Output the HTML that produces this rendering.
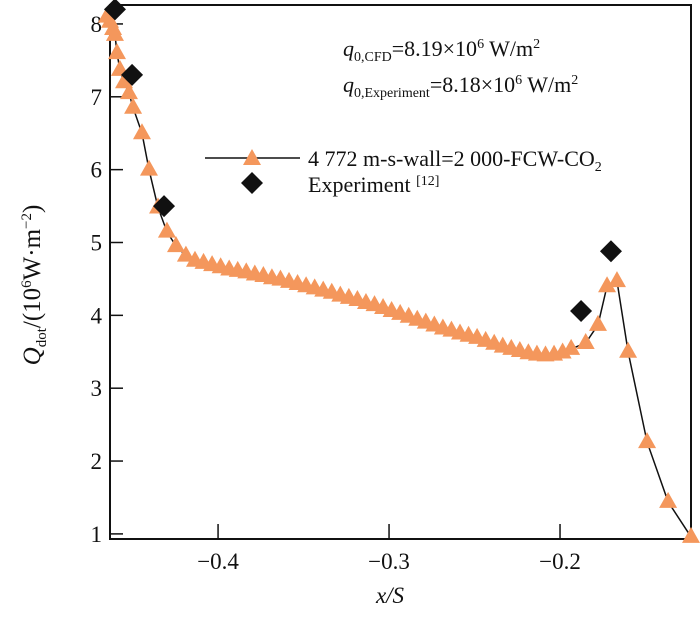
<!DOCTYPE html>
<html><head><meta charset="utf-8"><style>
body{margin:0;background:#fff;}
svg text{font-family:"Liberation Serif",serif;fill:#111;}
</style></head><body>
<svg id="c" width="700" height="612">
<g id="axes"></g>
<g id="series"></g>
<g>
<text x="343" y="56" font-size="22"><tspan font-style="italic">q</tspan><tspan font-size="14" dy="5">0,CFD</tspan><tspan dy="-5">=8.19×10</tspan><tspan font-size="14" dy="-8">6</tspan><tspan dy="8"> W/m</tspan><tspan font-size="14" dy="-8">2</tspan></text>
<text x="343" y="92" font-size="22"><tspan font-style="italic">q</tspan><tspan font-size="14" dy="5">0,Experiment</tspan><tspan dy="-5">=8.18×10</tspan><tspan font-size="14" dy="-8">6</tspan><tspan dy="8"> W/m</tspan><tspan font-size="14" dy="-8">2</tspan></text>
</g>
<g>
<line x1="205" y1="158" x2="300" y2="158" stroke="#111" stroke-width="1.5"/>
<polygon points="252,149 261,165 243,165" fill="#f4975c"/>
<text x="308" y="166" font-size="22">4 772 m-s-wall=2 000-FCW-CO<tspan font-size="14" dy="5">2</tspan></text>
<polygon points="252,172 263,183 252,194 241,183" fill="#111"/>
<text x="308" y="192" font-size="22">Experiment <tspan font-size="14" dy="-7">[12]</tspan></text>
</g>
<text transform="translate(40,285) rotate(-90)" text-anchor="middle" font-size="25"><tspan font-style="italic">Q</tspan><tspan font-size="15" dy="6">dot</tspan><tspan dy="-6">/(10</tspan><tspan font-size="15" dy="-9">6</tspan><tspan dy="9">W·m</tspan><tspan font-size="15" dy="-9">−2</tspan><tspan dy="9">)</tspan></text>
<text x="390" y="603" text-anchor="middle" font-size="23" font-style="italic">x/S</text>
</svg>
<script>
const cfdX=[-0.4650,-0.4632,-0.4614,-0.4603,-0.4591,-0.4574,-0.4550,-0.4521,-0.4497,-0.4445,-0.4404,-0.4351,-0.4299,-0.4246,-0.4188,-0.4135,
-0.4085,-0.4035,-0.3985,-0.3935,-0.3885,-0.3835,-0.3785,-0.3735,-0.3685,-0.3635,-0.3585,-0.3535,-0.3485,-0.3435,-0.3385,-0.3335,-0.3285,-0.3235,-0.3185,-0.3135,-0.3085,-0.3035,-0.2985,-0.2935,-0.2885,-0.2835,-0.2785,-0.2735,-0.2685,-0.2635,-0.2585,-0.2535,-0.2485,-0.2435,-0.2385,-0.2335,-0.2285,-0.2235,-0.2185,-0.2135,-0.2085,-0.2035,-0.1985,-0.1935,
-0.1850,-0.1778,-0.1725,-0.1667,-0.1602,-0.1491,-0.1368,-0.1234];
const cfdY=[8.10,8.03,7.93,7.85,7.60,7.37,7.20,7.05,6.85,6.50,6.00,5.48,5.15,4.95,4.82,4.75,
4.72,4.69,4.66,4.63,4.61,4.59,4.56,4.54,4.51,4.49,4.46,4.43,4.40,4.37,4.34,4.31,4.27,4.24,4.21,4.17,4.14,4.10,4.06,4.02,3.98,3.94,3.90,3.86,3.82,3.79,3.75,3.72,3.69,3.65,3.61,3.57,3.54,3.51,3.48,3.46,3.45,3.46,3.49,3.54,
3.62,3.87,4.40,4.47,3.50,2.26,1.44,0.96];
const expX=[-0.4603,-0.4503,-0.4316,-0.1877,-0.1702];
const expY=[8.20,7.30,5.50,4.06,4.88];
const xTicks=[-0.4,-0.3,-0.2];
const xTickLabels=["−0.4","−0.3","−0.2"];
const yTicks=[1,2,3,4,5,6,7,8];
const NS="http://www.w3.org/2000/svg";
const L=110,R=691,T=5,B=539;
const x0=-0.4632,x1=-0.1234,y0=0.93,y1=8.26;
function sx(v){return L+(v-x0)/(x1-x0)*(R-L);}
function sy(v){return B-(v-y0)/(y1-y0)*(B-T);}
function mk(tag,attrs,parent){const e=document.createElementNS(NS,tag);for(const k in attrs)e.setAttribute(k,attrs[k]);parent.appendChild(e);return e;}
const ax=document.getElementById('axes');
const frame=mk('rect',{x:L,y:T,width:R-L,height:B-T,fill:'none',stroke:'#111','stroke-width':2},ax);


xTicks.forEach((t,i)=>{
 const l=mk('line',{x1:sx(t),x2:sx(t),y1:B,y2:B-15,stroke:'#111','stroke-width':1.5},ax);
 
 
 const tx=mk('text',{x:sx(t),y:B+30,'text-anchor':'middle','font-size':23},ax);
 tx.textContent=xTickLabels[i];
 
 
});
yTicks.forEach(t=>{
 const l=mk('line',{x1:L,x2:L+13,y1:sy(t),y2:sy(t),stroke:'#111','stroke-width':1.5},ax);
 
 
 const tx=mk('text',{x:L-8,y:sy(t)+8,'text-anchor':'end','font-size':23},ax);
 tx.textContent=String(t);
 
 
});
const sg=document.getElementById('series');
const pts=cfdX.map((v,i)=>sx(v).toFixed(1)+','+sy(cfdY[i]).toFixed(1)).join(' ');
const pl=mk('polyline',{points:pts,fill:'none',stroke:'#111','stroke-width':1.5},sg);


cfdX.forEach((v,i)=>{
 const x=sx(v),y=sy(cfdY[i]);
 const p=mk('polygon',{points:`${x},${y-10} ${x+9},${y+6} ${x-9},${y+6}`,fill:'#f4975c'},sg);
 
 
});
expX.forEach((v,i)=>{
 const x=sx(v),y=sy(expY[i]);
 const p=mk('polygon',{points:`${x},${y-11} ${x+11},${y} ${x},${y+11} ${x-11},${y}`,fill:'#111'},sg);
 
 
});
</script>
</body></html>
